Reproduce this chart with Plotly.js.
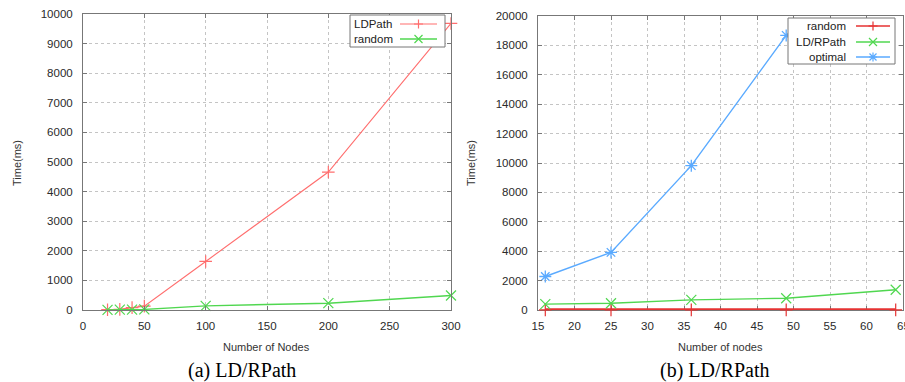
<!DOCTYPE html>
<html>
<head>
<meta charset="utf-8">
<script src="https://cdn.plot.ly/plotly-3.0.1.min.js"></script>
<style>html,body{margin:0;padding:0;background:#fff;}#chart{width:905px;height:382px;}</style>
</head>
<body>
<div id="chart"></div>
<script>
// ---- Data: chart (a) ----
const nodesA = [20, 30, 40, 50, 100, 200, 300];
const ldpathA = [10, 20, 80, 130, 1640, 4660, 9680];
const randomA = [5, 10, 15, 20, 140, 230, 490];

// ---- Data: chart (b) ----
const nodesB = [16, 25, 36, 49, 64];
const randomB = [10, 10, 10, 10, 10];
const ldrpathB = [400, 460, 690, 800, 1380];
const optimalB = [2280, 3920, 9820, 18680];

const xTickA = [0, 50, 100, 150, 200, 250, 300];
const yTickA = [0,1000,2000,3000,4000,5000,6000,7000,8000,9000,10000];
const xTickB = [15,20,25,30,35,40,45,50,55,60,65];
const yTickB = [0,2000,4000,6000,8000,10000,12000,14000,16000,18000,20000];

const W = 905, H = 382;
const RED_A = 'rgb(255,110,110)', GREEN = 'rgb(80,215,80)', BLUE = 'rgb(90,170,255)', RED_B = 'rgb(230,50,50)';
const tickFont = {family: 'Liberation Sans, Arial, sans-serif', size: 11.5, color: '#2a2a2a'};

function axisBase(extra) {
  return Object.assign({
    showline: true, linecolor: '#777', linewidth: 1, mirror: 'ticks',
    ticks: 'inside', ticklen: 4, tickcolor: '#777', tickwidth: 1,
    showgrid: true, gridcolor: '#c4c4c4', griddash: 'dot', gridwidth: 1,
    zeroline: false, tickfont: tickFont, fixedrange: true,
    exponentformat: 'none', separatethousands: false, tickmode: 'array'
  }, extra);
}

const traces = [
  {x: nodesA, y: ldpathA, xaxis: 'x', yaxis: 'y', mode: 'lines+markers', name: 'LDPath', cliponaxis: false,
   line: {color: RED_A, width: 1.1}, marker: {symbol: 'cross-thin-open', size: 9, color: RED_A, line: {color: RED_A, width: 1.2}}},
  {x: nodesA, y: randomA, xaxis: 'x', yaxis: 'y', mode: 'lines+markers', name: 'random', cliponaxis: false,
   line: {color: GREEN, width: 1.4}, marker: {symbol: 'x-thin-open', size: 10, color: GREEN, line: {color: GREEN, width: 1.2}}},
  {x: nodesB, y: randomB, xaxis: 'x2', yaxis: 'y2', mode: 'lines+markers', name: 'random', cliponaxis: false,
   line: {color: RED_B, width: 3}, marker: {symbol: 'cross-thin-open', size: 9, color: RED_B, line: {color: RED_B, width: 1.2}}},
  {x: nodesB, y: ldrpathB, xaxis: 'x2', yaxis: 'y2', mode: 'lines+markers', name: 'LD/RPath', cliponaxis: false,
   line: {color: GREEN, width: 1.4}, marker: {symbol: 'x-thin-open', size: 10, color: GREEN, line: {color: GREEN, width: 1.2}}},
  {x: nodesB.slice(0, optimalB.length), y: optimalB, xaxis: 'x2', yaxis: 'y2', mode: 'lines+markers', name: 'optimal', cliponaxis: false,
   line: {color: BLUE, width: 1.4}, marker: {symbol: 'asterisk-open', size: 10, color: BLUE, line: {color: BLUE, width: 1.3}}}
];

const px = v => v / W;
const py = v => 1 - v / H;

const shapes = [];
const annotations = [];

function legendBox(x0, y0, x1, y1) {
  shapes.push({type: 'rect', xref: 'paper', yref: 'paper', x0: px(x0), x1: px(x1), y0: py(y1), y1: py(y0),
    line: {color: '#777', width: 1}, fillcolor: 'rgba(255,255,255,1)', layer: 'above'});
}
function legendEntry(text, align, tx, ly, lx0, lx1, color, markerPath, lw) {
  annotations.push({xref: 'paper', yref: 'paper', x: px(tx), y: py(ly), text: text, showarrow: false,
    xanchor: align, yanchor: 'middle', font: {family: 'Liberation Sans, Arial, sans-serif', size: 11.5, color: '#222'}});
  shapes.push({type: 'line', xref: 'paper', yref: 'paper', x0: px(lx0), x1: px(lx1), y0: py(ly), y1: py(ly),
    line: {color: color, width: lw}, layer: 'above'});
  shapes.push({type: 'path', xref: 'paper', yref: 'paper', xsizemode: 'pixel', ysizemode: 'pixel',
    xanchor: px((lx0 + lx1) / 2), yanchor: py(ly), path: markerPath, line: {color: color, width: 1.2}, layer: 'above'});
}
const plusPath = 'M-4.5,0 L4.5,0 M0,-4.5 L0,4.5';
const xPath = 'M-4,-4 L4,4 M-4,4 L4,-4';
const starPath = 'M-4,0 L4,0 M0,-4.5 L0,4.5 M-3.5,-3.5 L3.5,3.5 M-3.5,3.5 L3.5,-3.5';

legendBox(350, 15, 445, 47);
legendEntry('LDPath', 'left', 352, 24, 400, 437, RED_A, plusPath, 1.1);
legendEntry('random', 'left', 352, 39, 400, 437, GREEN, xPath, 1.4);

legendBox(788, 18, 895, 64);
legendEntry('random', 'right', 848, 26, 856, 890, RED_B, plusPath, 1.4);
legendEntry('LD/RPath', 'right', 848, 42, 856, 890, GREEN, xPath, 1.4);
legendEntry('optimal', 'right', 848, 57, 856, 890, BLUE, starPath, 1.4);

// last tick label of chart (b), partially cut by the right edge as in the reference
annotations.push({xref: 'paper', yref: 'paper', x: px(903), y: py(326), text: String(xTickB[xTickB.length - 1]),
  showarrow: false, xanchor: 'center', yanchor: 'middle', font: tickFont});

const titleFont = {family: 'Liberation Sans, Arial, sans-serif', size: 11, color: '#333'};
annotations.push({xref: 'paper', yref: 'paper', x: px(266), y: py(347), text: 'Number of Nodes', showarrow: false, xanchor: 'center', yanchor: 'middle', font: titleFont});
annotations.push({xref: 'paper', yref: 'paper', x: px(720), y: py(347), text: 'Number of nodes', showarrow: false, xanchor: 'center', yanchor: 'middle', font: titleFont});
annotations.push({xref: 'paper', yref: 'paper', x: px(17), y: py(163), text: 'Time(ms)', textangle: -90, showarrow: false, xanchor: 'center', yanchor: 'middle', font: titleFont});
annotations.push({xref: 'paper', yref: 'paper', x: px(471), y: py(163), text: 'Time(ms)', textangle: -90, showarrow: false, xanchor: 'center', yanchor: 'middle', font: titleFont});

const capFont = {family: 'Liberation Serif, Times New Roman, serif', size: 20, color: '#000'};
annotations.push({xref: 'paper', yref: 'paper', x: px(242), y: py(370), text: '(a) LD/RPath', showarrow: false, xanchor: 'center', yanchor: 'middle', font: capFont});
annotations.push({xref: 'paper', yref: 'paper', x: px(714), y: py(370), text: '(b) LD/RPath', showarrow: false, xanchor: 'center', yanchor: 'middle', font: capFont});

const layout = {
  width: W, height: H,
  margin: {l: 0, r: 0, t: 0, b: 0, pad: 0},
  paper_bgcolor: '#fff', plot_bgcolor: '#fff',
  showlegend: false,
  xaxis: axisBase({domain: [px(83), px(451)], range: [0, 300], tickvals: xTickA, ticktext: xTickA.map(String), anchor: 'y', ticklabelstandoff: 5}),
  yaxis: axisBase({domain: [py(310), py(14)], range: [0, 10000], tickvals: yTickA, ticktext: yTickA.map(String), anchor: 'x', ticklabelstandoff: 7}),
  xaxis2: axisBase({domain: [px(538), px(903)], range: [15, 65], tickvals: xTickB, ticktext: xTickB.map(String), anchor: 'y2', ticklabelstandoff: 5, layer: 'below traces'}),
  yaxis2: axisBase({domain: [py(310), py(16)], range: [0, 20000], tickvals: yTickB, ticktext: yTickB.map(String), anchor: 'x2', ticklabelstandoff: 7}),
  shapes: shapes,
  annotations: annotations
};

Plotly.newPlot('chart', traces, layout, {displayModeBar: false, staticPlot: true});
</script>
</body>
</html>
